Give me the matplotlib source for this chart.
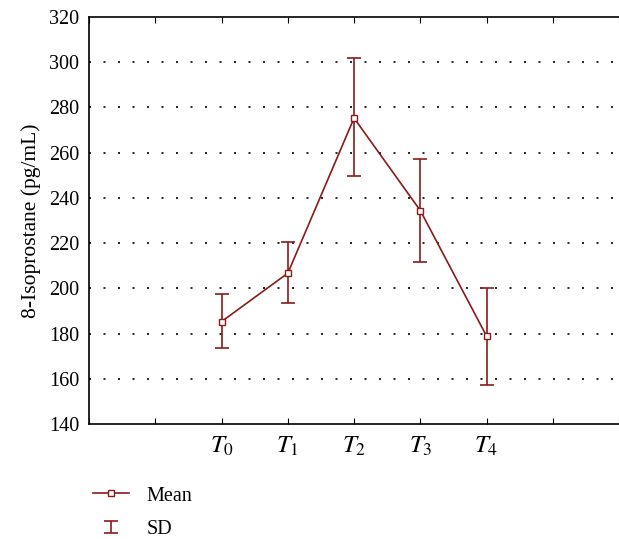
import matplotlib.pyplot as plt
import numpy as np
from matplotlib.legend_handler import HandlerErrorbar

plt.rcParams['font.family'] = ['Liberation Serif', 'DejaVu Serif']
plt.rcParams['mathtext.fontset'] = 'stix'

# data
time_labels = [r'$T_0$', r'$T_1$', r'$T_2$', r'$T_3$', r'$T_4$']
time_pos = [0, 1, 2, 3, 4]
mean_vals = [185.3, 206.7, 275.3, 234.4, 178.9]
sd_upper = [197.5, 220.7, 302.0, 257.4, 200.3]
sd_lower = [173.6, 193.7, 249.7, 211.7, 157.1]

red = '#8b1a1a'

fig = plt.figure(figsize=(6.19, 5.39), dpi=100)
ax = fig.add_axes([0.144, 0.2134, 0.856, 0.7551])

means = np.array(mean_vals)
yerr = [means - np.array(sd_lower), np.array(sd_upper) - means]
sd = ax.errorbar(time_pos, mean_vals, yerr=yerr, fmt='none', ecolor=red,
                 elinewidth=1.2, capsize=5, capthick=1.2, label='SD', zorder=3)
line, = ax.plot(time_pos, mean_vals, color=red, lw=1.2, marker='s', ms=4.5,
                mfc='white', mec=red, mew=1.0, label='Mean', zorder=4)

ax.set_xlim(-2, 6)
ax.set_ylim(140, 320)
ax.set_xticks(range(-2, 7))
ax.set_xticklabels([''] * 2 + time_labels + [''] * 2, fontsize=18)
ax.set_yticks(range(140, 321, 20))
ax.tick_params(axis='y', labelsize=14.5, length=0, pad=7)
ax.tick_params(axis='x', direction='in', length=4, top=True, pad=8)
ax.set_ylabel('8-Isoprostane (pg/mL)', fontsize=15.5, labelpad=6)

for y in range(160, 320, 20):
    ax.axhline(y, color='black', lw=1.2, ls=(0, (1.2, 7.5)), zorder=1)

ax.spines['right'].set_visible(False)
for s in ['left', 'bottom', 'top']:
    ax.spines[s].set_linewidth(1.2)

fig.legend(handles=[line, sd], labels=['Mean', 'SD'], loc='upper left',
           bbox_to_anchor=(0.130, 0.120), frameon=False, fontsize=14.5,
           handlelength=1.8, handletextpad=0.9, labelspacing=0.7,
           borderaxespad=0.2,
           handler_map={type(sd): HandlerErrorbar(xerr_size=0.3)})

fig.savefig('out.png', dpi=100)
